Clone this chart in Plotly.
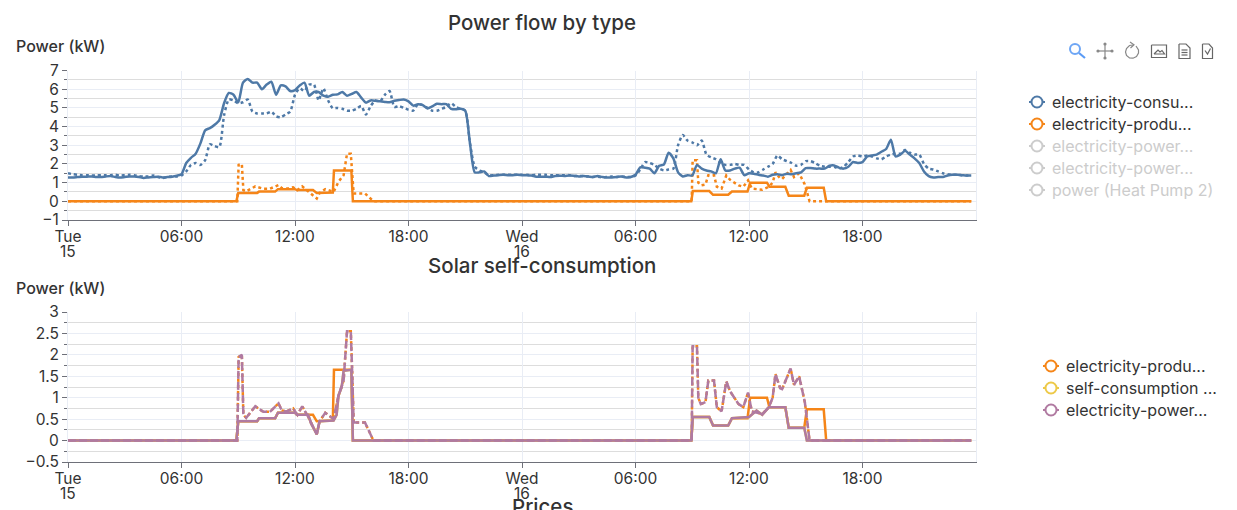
import pandas as pd
import plotly.graph_objects as go

W = 1237
H = 510

# Colours
blue = '#4e79a7'
orange = '#f58518'
yellow = '#edc948'
purple = '#b07aa1'
grey = '#cccccc'
text_color = '#333333'
font_name = 'Inter'

start = pd.Timestamp('2022-11-15 00:00')

# Consumption, one value per 15 minutes
consumption_day1 = [
    1.28, 1.28, 1.30, 1.32, 1.32, 1.33, 1.30, 1.30, 1.33, 1.35, 1.30, 1.27,
    1.30, 1.33, 1.33, 1.30, 1.25, 1.28, 1.30, 1.32, 1.28, 1.30, 1.32, 1.37,
    1.45, 2.05, 2.33, 2.55, 3.10, 3.80, 3.92, 4.10, 4.35, 5.25, 5.80, 5.70,
    5.30, 6.35, 6.55, 6.35, 6.35, 6.00, 6.25, 6.40, 5.70, 6.20, 6.15, 5.90,
    5.95, 6.20, 6.35, 5.65, 5.85, 5.85, 5.65, 5.60, 5.70, 5.72, 5.85, 5.65,
    5.75, 5.85, 5.55, 5.28, 5.40, 5.38, 5.35, 5.32, 5.30, 5.38, 5.42, 5.45,
    5.35, 5.12, 5.20, 5.15, 4.97, 5.08, 5.22, 5.20, 5.20, 4.95, 4.92, 4.95,
    4.85, 3.10, 1.55, 1.55, 1.60, 1.35, 1.38, 1.40, 1.42, 1.40, 1.40, 1.42,
]
consumption_day2 = [
    1.40, 1.40, 1.38, 1.32, 1.32, 1.32, 1.30, 1.35, 1.37, 1.36, 1.38, 1.36,
    1.33, 1.35, 1.33, 1.30, 1.35, 1.30, 1.28, 1.28, 1.30, 1.33, 1.28, 1.30,
    1.42, 1.82, 1.80, 1.75, 1.50, 1.90, 1.97, 2.60, 2.30, 1.55, 1.33, 1.40,
    1.38, 1.95, 1.75, 1.65, 1.60, 1.50, 2.25, 1.65, 1.65, 1.75, 1.80, 1.40,
    1.50, 1.48, 1.42, 1.38, 1.32, 1.42, 1.45, 1.40, 1.48, 1.45, 1.50, 1.55,
    1.78, 1.78, 1.75, 1.75, 1.75, 1.90, 1.92, 1.80, 1.75, 1.85, 2.10, 2.05,
    2.10, 2.40, 2.45, 2.50, 2.65, 2.80, 3.30, 2.40, 2.50, 2.70, 2.50, 2.30,
    2.05, 1.60, 1.35, 1.28, 1.30, 1.30, 1.38, 1.42, 1.42, 1.40, 1.38, 1.38,
]
consumption_forecast_day1 = [
    1.50, 1.45, 1.42, 1.40, 1.40, 1.38, 1.38, 1.40, 1.40, 1.40, 1.42, 1.38,
    1.40, 1.42, 1.40, 1.35, 1.33, 1.33, 1.38, 1.30, 1.25, 1.30, 1.33, 1.33,
    1.38, 1.60, 1.95, 2.05, 1.95, 2.20, 3.05, 2.95, 2.90, 4.60, 5.45, 5.40,
    5.25, 5.30, 5.45, 4.80, 4.70, 4.70, 4.70, 4.80, 4.55, 4.50, 4.65, 4.80,
    5.70, 6.05, 5.90, 6.25, 6.25, 5.40, 6.05, 5.40, 4.98, 5.00, 4.95, 4.85,
    4.85, 4.95, 5.10, 4.65, 5.10, 5.40, 5.35, 5.70, 5.90, 5.05, 5.10, 5.00,
    4.90, 4.85, 5.20, 5.15, 5.00, 4.85, 4.85, 4.95, 5.05, 5.25, 5.05, 4.95,
    4.85, 3.10, 1.85, 1.65, 1.55, 1.38, 1.40, 1.42, 1.42, 1.42, 1.43, 1.42,
]
consumption_forecast_day2 = [
    1.42, 1.42, 1.40, 1.42, 1.42, 1.42, 1.40, 1.40, 1.38, 1.40, 1.40, 1.36,
    1.35, 1.35, 1.33, 1.30, 1.32, 1.28, 1.30, 1.33, 1.30, 1.33, 1.30, 1.30,
    1.38, 1.70, 2.10, 2.05, 1.95, 1.75, 1.65, 1.70, 1.75, 3.00, 3.55, 3.25,
    3.15, 3.00, 3.25, 2.50, 2.35, 2.25, 2.05, 1.95, 1.95, 2.00, 1.95, 1.95,
    1.70, 1.55, 1.55, 1.70, 1.85, 2.00, 2.45, 2.25, 2.15, 2.05, 1.90, 1.95,
    2.15, 2.15, 2.05, 1.90, 1.85, 1.85, 1.85, 1.75, 1.85, 2.10, 2.40, 2.45,
    2.40, 2.45, 2.40, 2.30, 2.25, 2.40, 2.50, 2.55, 2.55, 2.75, 2.60, 2.50,
    2.50, 2.00, 1.75, 1.70, 1.60, 1.50, 1.45, 1.42, 1.42, 1.40, 1.38, 1.38,
]
consumption_kw = consumption_day1 + consumption_day2
consumption_forecast_kw = consumption_forecast_day1 + consumption_forecast_day2

# Solar series have sharp edges, so they are read as (hours since start, kW)
production_hours = [
    0, 8.9, 9.0, 10.0, 10.1, 10.95, 11.1, 12.0, 12.1, 12.95, 13.15, 14.0, 14.06,
    14.98, 15.06, 32.95, 33.03, 33.9, 34.1, 34.9, 35.1, 35.92, 36.06, 36.95,
    37.08, 37.92, 38.1, 38.92, 39.06, 39.95, 40.08, 47.75,
]
production_kw = [
    0, 0, 0.45, 0.45, 0.52, 0.52, 0.65, 0.65, 0.6, 0.6, 0.45, 0.47, 1.65,
    1.65, 0, 0, 0.55, 0.55, 0.35, 0.35, 0.52, 0.52, 1.0, 1.0,
    0.78, 0.78, 0.3, 0.3, 0.73, 0.73, 0, 0,
]
forecast_hours = [
    0, 8.95, 9.02, 9.19, 9.27, 9.42, 9.9, 10.33, 10.67, 11.13, 11.3, 11.55, 11.9,
    12.13, 12.38, 12.7, 13.15, 13.3, 13.6, 14.04, 14.3, 14.57, 14.75, 14.95, 15.03,
    15.1, 15.7, 16.15, 32.97, 33.02, 33.25, 33.32, 33.45, 33.7, 33.85, 34.15, 34.3,
    34.55, 34.8, 35.0, 35.45, 35.7, 35.95, 36.15, 36.7, 37.05, 37.25, 37.4, 37.65,
    37.75, 38.2, 38.38, 38.65, 38.95, 39.05, 39.2, 40.0, 47.75,
]
forecast_kw = [
    0, 0, 1.95, 2.0, 0.6, 0.53, 0.8, 0.67, 0.67, 0.87, 0.7, 0.68, 0.75,
    0.6, 0.8, 0.55, 0.15, 0.45, 0.65, 0.5, 1.05, 1.4, 2.55, 2.55, 1.5,
    0.42, 0.42, 0, 0, 2.2, 2.2, 1.0, 0.85, 0.9, 1.4, 1.4, 0.78,
    0.68, 1.38, 1.15, 0.85, 0.78, 1.12, 0.68, 0.62, 0.78, 1.0, 1.55, 1.22,
    1.2, 1.68, 1.3, 1.5, 0.9, 0.55, 0, 0, 0,
]
self_hours = [
    0, 8.9, 9.0, 10.0, 10.1, 10.95, 11.1, 12.0, 12.1, 12.7, 12.85, 13.15, 13.3, 14.04,
    14.2, 14.3, 14.47, 14.57, 14.98, 15.06, 32.95, 33.03, 33.9, 34.1, 34.9, 35.1, 36.0,
    36.4, 36.7, 37.05, 37.92, 38.1, 38.92, 39.06, 47.75,
]
self_kw = [
    0, 0, 0.45, 0.45, 0.52, 0.52, 0.65, 0.65, 0.6, 0.6, 0.4, 0.15, 0.45, 0.47,
    0.6, 1.05, 1.25, 1.63, 1.65, 0, 0, 0.55, 0.55, 0.35, 0.35, 0.52, 0.55,
    0.7, 0.6, 0.78, 0.78, 0.3, 0.3, 0, 0,
]

legend_top = ['electricity-consu...', 'electricity-produ...', 'electricity-power...',
              'electricity-power...', 'power (Heat Pump 2)']
legend_bottom = ['electricity-produ...', 'self-consumption ...', 'electricity-power...']

tick_hours = [0, 6, 12, 18, 24, 30, 36, 42]
tick_labels = ['Tue', '06:00', '12:00', '18:00', 'Wed', '06:00', '12:00', '18:00']


def to_times(hours):
    return [start + pd.Timedelta(hours=h) for h in hours]


def px(x):
    return x / W


def py(y):
    return 1 - y / H


def add_line(fig, hours, values, color, row, dash='solid', name=None, shape='linear'):
    fig.add_trace(go.Scatter(
        x=to_times(hours), y=values, mode='lines', name=name, showlegend=False,
        line=dict(color=color, width=2.5, dash=dash, shape=shape, smoothing=0.6),
        xaxis='x' + row, yaxis='y' + row,
    ))


grid_hours = [i / 4 for i in range(len(consumption_kw))]

fig = go.Figure()
# top chart
add_line(fig, grid_hours, consumption_forecast_kw, blue, '', '3px,3px', 'consumption forecast', 'spline')
add_line(fig, forecast_hours, forecast_kw, orange, '', '3px,3px', 'production forecast')
add_line(fig, grid_hours, consumption_kw, blue, '', name='electricity-consumption', shape='spline')
add_line(fig, production_hours, production_kw, orange, '', name='electricity-production')
# bottom chart
add_line(fig, production_hours, production_kw, orange, '2', name='electricity-production')
add_line(fig, forecast_hours, forecast_kw, orange, '2', '3px,3px', 'production forecast')
add_line(fig, self_hours, self_kw, yellow, '2', name='self-consumption')
add_line(fig, forecast_hours, forecast_kw, purple, '2', '8px,3px', 'power forecast')
add_line(fig, self_hours, self_kw, purple, '2', name='electricity-power')

annotations = []
shapes = []


def add_text(x, y, text, size=16, color=text_color, anchor='left', weight=None):
    annotations.append(dict(
        x=px(x), y=py(y), xref='paper', yref='paper', text=text, showarrow=False,
        xanchor=anchor, yanchor='middle', align=anchor,
        font=dict(family=font_name, size=size, color=color, weight=weight),
    ))


def add_legend(x, y, names, colors, text_colors):
    for i, name in enumerate(names):
        row_y = y + i * 22
        shapes.append(dict(type='line', xref='paper', yref='paper', x0=px(x - 8), x1=px(x + 8),
                           y0=py(row_y), y1=py(row_y), line=dict(color=colors[i], width=2)))
        shapes.append(dict(type='circle', xref='paper', yref='paper', x0=px(x - 5.5), x1=px(x + 5.5),
                           y0=py(row_y - 5.5), y1=py(row_y + 5.5), fillcolor='white',
                           line=dict(color=colors[i], width=2)))
        add_text(x + 13, row_y, name, color=text_colors[i])


add_text(542, 23, 'Power flow by type', size=20.5, anchor='center', weight=500)
add_text(542, 265, 'Solar self-consumption', size=20.5, anchor='center', weight=500)
add_text(542, 506, 'Prices', size=20.5, anchor='center', weight=500)
add_text(14, 46, 'Power (kW)', size=16, weight=500)
add_text(14, 288, 'Power (kW)', size=16, weight=500)

# day numbers under the Tue / Wed ticks
for x_pos, y_pos, day in [(68, 251, '15'), (522, 251, '16'), (68, 493, '15'), (522, 493, '16')]:
    add_text(x_pos, y_pos, day, size=15.5, anchor='center')

add_legend(1037, 102, legend_top, [blue, orange, grey, grey, grey],
           [text_color, text_color, grey, grey, grey])
add_legend(1051, 366, legend_bottom, [orange, yellow, purple],
           [text_color, text_color, text_color])


# toolbox icons in the top right corner
def icon_path(points, color='#666666', width=1.2):
    path = 'M' + ' L'.join(f'{px(a):.5f},{py(b):.5f}' for a, b in points)
    shapes.append(dict(type='path', xref='paper', yref='paper', path=path,
                       line=dict(color=color, width=width)))


def icon_dot(x, y, r, color):
    shapes.append(dict(type='circle', xref='paper', yref='paper', x0=px(x - r), x1=px(x + r),
                       y0=py(y - r), y1=py(y + r), fillcolor=color, line=dict(color=color, width=0)))


shapes.append(dict(type='circle', xref='paper', yref='paper', x0=px(1070), x1=px(1080), y0=py(44),
                   y1=py(54), line=dict(color='#6ea6f5', width=2)))
icon_path([(1079, 53), (1085, 58)], '#5b9bf5', 2.2)
icon_path([(1098, 51), (1112, 51)], '#888888', 1.2)
icon_path([(1105, 44), (1105, 58)], '#888888', 1.2)
for dot_x, dot_y in [(1098, 51), (1112, 51), (1105, 44), (1105, 58)]:
    icon_dot(dot_x, dot_y, 1.6, '#888888')
icon_path([(1136, 46), (1138.5, 50), (1138.5, 53), (1136.5, 56.5), (1133, 58.2), (1129.5, 58),
           (1126.5, 55.5), (1125.5, 52), (1126.5, 48.5), (1129.5, 45.5), (1133, 45)], '#888888')
icon_path([(1130, 42), (1134, 44.8), (1130.5, 48)], '#888888')
icon_path([(1151.5, 45), (1166.5, 45), (1166.5, 57.5), (1151.5, 57.5), (1151.5, 45)])
icon_path([(1154, 54), (1158, 50), (1160, 52), (1162, 50.5), (1164.5, 54), (1154, 54)])
icon_path([(1179, 44), (1186, 44), (1190, 48), (1190, 58.5), (1179, 58.5), (1179, 44)])
icon_path([(1181.5, 50), (1187.5, 50)])
icon_path([(1181.5, 52.5), (1187.5, 52.5)])
icon_path([(1181.5, 55), (1187.5, 55)])
icon_path([(1202.5, 44), (1209, 44), (1212.5, 48), (1212.5, 58.5), (1202.5, 58.5), (1202.5, 44)])
icon_path([(1205, 50.5), (1207.5, 54), (1210.5, 48.5)])

x_common = dict(
    type='date',
    automargin=False,
    range=[start, start + pd.Timedelta(hours=48)],
    tickvals=to_times(tick_hours),
    ticktext=tick_labels,
    tickangle=0,
    ticks='outside',
    ticklen=5,
    tickcolor='#6e7079',
    ticklabelstandoff=-3,
    showline=True,
    linecolor='#6e7079',
    linewidth=1,
    showgrid=True,
    gridcolor='#e9edf5',
    gridwidth=1,
    zeroline=False,
    domain=[px(68), px(976)],
    tickfont=dict(family=font_name, size=15.5, color=text_color),
)
y_common = dict(
    automargin=False,
    ticks='outside',
    ticklen=5,
    tickcolor='#6e7079',
    showline=True,
    mirror=True,
    linecolor='#e9edf5',
    showgrid=True,
    gridcolor='#e9edf5',
    gridwidth=1,
    zeroline=False,
    tickfont=dict(family=font_name, size=15.5, color=text_color),
)

fig.update_layout(
    width=W,
    height=H,
    autosize=False,
    margin=dict(l=0, r=0, t=0, b=0),
    paper_bgcolor='white',
    plot_bgcolor='white',
    showlegend=False,
    annotations=annotations,
    shapes=shapes,
    xaxis=dict(anchor='y', **x_common),
    xaxis2=dict(anchor='y2', **x_common),
    yaxis=dict(
        anchor='x', domain=[py(220), py(70.5)], range=[-1, 7], dtick=1, tick0=0,
        minor=dict(dtick=0.5, tick0=0, ticks='outside', ticklen=3, tickcolor='#6e7079',
                   showgrid=True, gridcolor='#dddddd', gridwidth=1),
        **y_common,
    ),
    yaxis2=dict(
        anchor='x2', domain=[py(462), py(312)], range=[-0.5, 3], dtick=0.5, tick0=0,
        minor=dict(dtick=0.25, tick0=0, ticks='outside', ticklen=3, tickcolor='#6e7079',
                   showgrid=True, gridcolor='#dddddd', gridwidth=1),
        **y_common,
    ),
)

fig.write_html("out.html", config=dict(displayModeBar=False),
               post_script="document.body.style.margin='0';document.body.style.overflow='hidden';")
